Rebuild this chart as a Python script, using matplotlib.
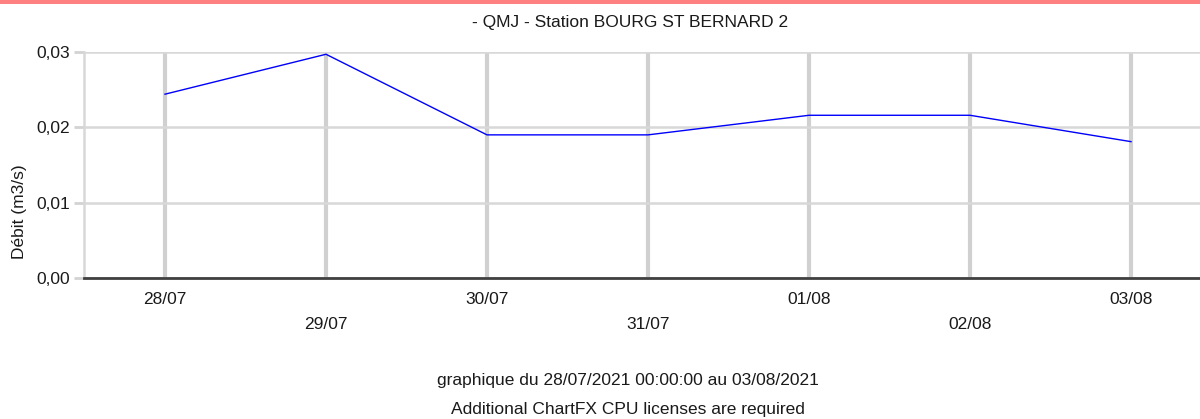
import matplotlib.pyplot as plt
import numpy as np

plt.rcParams['font.family'] = ['Liberation Sans', 'DejaVu Sans']

# data
days = ['28/07', '29/07', '30/07', '31/07', '01/08', '02/08', '03/08']
debit = [0.0244, 0.0297, 0.0190, 0.0190, 0.0216, 0.0216, 0.0181]
yticks = [0.00, 0.01, 0.02, 0.03]
ylabels = ['0,00', '0,01', '0,02', '0,03']

title = '- QMJ - Station BOURG ST BERNARD 2'
footer = 'graphique du 28/07/2021 00:00:00 au 03/08/2021'
license_note = 'Additional ChartFX CPU licenses are required'

W, H = 1200, 419
fs = 12.5
txt = '#1a1a1a'
fig = plt.figure(figsize=(W / 100, H / 100), dpi=100)

# axes box in pixels: left 84, right 1200, top 52, bottom 278
ax = fig.add_axes([84 / W, (H - 278) / H, (1200 - 84) / W, (278 - 52) / H])

x = np.arange(len(days))
ax.plot(x, debit, color='#0000ff', lw=1.0, zorder=3)

# x scale: day 0 at px 165, spacing 161 px
ax.set_xlim((84 - 165) / 161, (1200 - 165) / 161)
ax.set_ylim(0, 0.03)

# staggered date labels: even days high, odd days low
ax.set_xticks(x[::2])
ax.set_xticklabels(days[::2])
ax.set_xticks(x[1::2], minor=True)
ax.set_xticklabels(days[1::2], minor=True)
ax.tick_params(axis='x', which='major', length=0, pad=10, labelsize=fs, colors=txt)
ax.tick_params(axis='x', which='minor', length=0, pad=28, labelsize=fs, colors=txt)

ax.set_yticks(yticks)
ax.set_yticklabels(ylabels)
ax.tick_params(axis='y', length=7, width=2, pad=3, labelsize=fs, colors=txt)
ax.tick_params(axis='y', color='#d3d3d3')

ax.grid(axis='x', which='both', color='#d0d0d0', lw=3, zorder=1)
ax.grid(axis='y', color='#d8d8d8', lw=1.8, zorder=1)
ax.set_axisbelow(True)

for s in ['top', 'right']:
    ax.spines[s].set_visible(False)
ax.spines['left'].set_color('#d8d8d8')
ax.spines['left'].set_linewidth(1.8)
ax.spines['bottom'].set_color('#404040')
ax.spines['bottom'].set_linewidth(2)

# y label sits below the axis centre in the reference
fig.text(20 / W, 1 - 212 / H, 'Débit (m3/s)', rotation=90, ha='center', va='center',
         fontsize=fs, color=txt)

# texts
fig.text(630 / W, 1 - 22 / H, title, ha='center', va='center', fontsize=fs, color=txt)
fig.text(628 / W, 1 - 380 / H, footer, ha='center', va='center', fontsize=fs, color=txt)
fig.text(628 / W, 1 - 409 / H, license_note, ha='center', va='center', fontsize=fs, color=txt)

# red strip along the top edge
fig.add_artist(plt.Rectangle((0, 1 - 4 / H), 1, 4 / H, transform=fig.transFigure,
                             color='#ff8080', lw=0))

fig.savefig('out.png', dpi=100)
